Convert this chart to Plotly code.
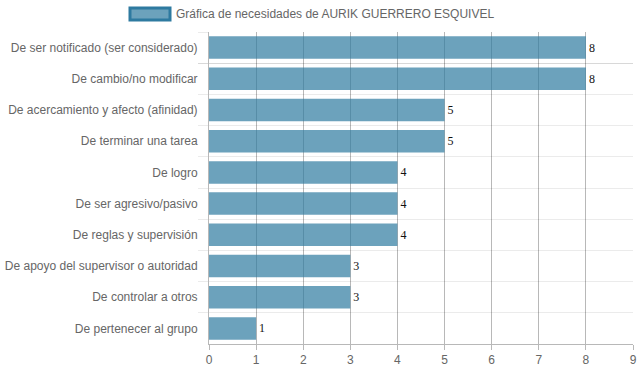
import plotly.graph_objects as go

categories = [
    "De ser notificado (ser considerado)",
    "De cambio/no modificar",
    "De acercamiento y afecto (afinidad)",
    "De terminar una tarea",
    "De logro",
    "De ser agresivo/pasivo",
    "De reglas y supervisión",
    "De apoyo del supervisor o autoridad",
    "De controlar a otros",
    "De pertenecer al grupo",
]
values = [8, 8, 5, 5, 4, 4, 4, 3, 3, 1]
series_name = "Gráfica de necesidades de AURIK GUERRERO ESQUIVEL"
x_ticks = list(range(0, 10))

bar_fill = "rgba(46,122,160,0.7)"
bar_border = "rgba(46,122,160,1)"

PW, PH = 424, 312  # plot area size in px (for legend placement)

fig = go.Figure()
fig.add_trace(go.Bar(
    y=categories,
    x=values,
    orientation="h",
    marker=dict(color=bar_fill, line=dict(width=0)),
    text=[str(v) for v in values],
    textposition="outside",
    textfont=dict(family="Liberation Serif, Times New Roman, serif", size=12, color="#111"),
    cliponaxis=False,
    showlegend=False,
    name=series_name,
    hoverinfo="x+y",
))

fig.update_layout(
    width=639, height=372,
    margin=dict(l=209, r=6, t=32, b=28, autoexpand=False),
    paper_bgcolor="white", plot_bgcolor="white",
    bargap=0.28,
    font=dict(family="Liberation Sans", size=12, color="#666"),
    xaxis=dict(
        range=[0, 9], tickvals=x_ticks, ticktext=[str(t) for t in x_ticks],
        automargin=False,
        showgrid=True, gridcolor="rgba(0,0,0,0.28)", gridwidth=1,
        zeroline=False, showline=True, linecolor="rgba(0,0,0,0.28)",
        ticks="outside", ticklen=5, tickcolor="rgba(0,0,0,0.28)",
        tickfont=dict(size=12, color="#666"),
    ),
    yaxis=dict(
        autorange="reversed", type="category", tickson="boundaries",
        automargin=False,
        showgrid=True, gridcolor="rgba(0,0,0,0.08)", gridwidth=1,
        showline=True, linecolor="rgba(0,0,0,0.28)",
        ticks="outside", ticklen=10, tickcolor="rgba(0,0,0,0.08)",
        ticklabelstandoff=8,
        tickfont=dict(size=12, color="#666"),
    ),
    shapes=[dict(
        type="rect", xref="paper", yref="paper",
        x0=-79/PW, x1=-39/PW, y0=1+12/PH, y1=1+24/PH,
        fillcolor=bar_fill, line=dict(color=bar_border, width=3),
    )],
    annotations=[dict(
        xref="paper", yref="paper", x=-35/PW, y=1+18/PH,
        xanchor="left", yanchor="middle", showarrow=False,
        text=series_name, font=dict(family="Liberation Sans", size=12, color="#666"),
    )],
)

fig.write_html("out.html", config={"displayModeBar": False})

with open("out.html", "r", encoding="utf-8") as f:
    html = f.read()
html = html.replace("<body>", '<body style="margin:0;padding:0;overflow:hidden">', 1)
with open("out.html", "w", encoding="utf-8") as f:
    f.write(html)
